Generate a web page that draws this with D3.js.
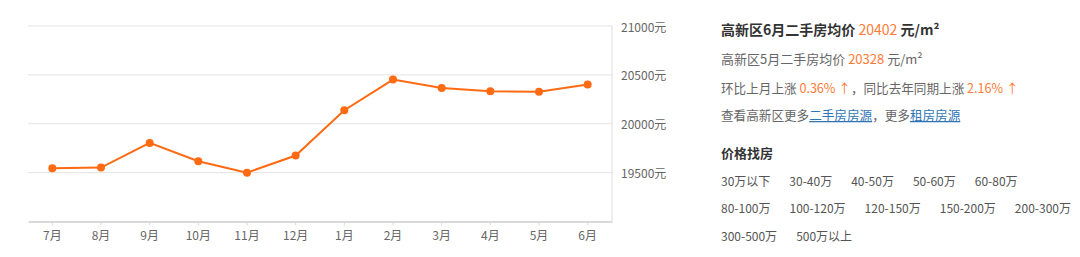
<!DOCTYPE html>
<html>
<head>
<meta charset="utf-8">
<script src="https://cdn.jsdelivr.net/npm/d3@7"></script>
<style>
  body { margin: 0; background: #fff; }
  svg { display: block; font-family: "Microsoft YaHei", "Noto Sans CJK SC", sans-serif; }
</style>
</head>
<body>
<svg></svg>
<script>
const width = 1080;
const height = 257;

const months = ['7月', '8月', '9月', '10月', '11月', '12月', '1月', '2月', '3月', '4月', '5月', '6月'];
const prices = [19545, 19552, 19804, 19617, 19500, 19675, 20138, 20452, 20366, 20333, 20328, 20402];
const yTicks = [19500, 20000, 20500, 21000];
const priceRanges = ['30万以下', '30-40万', '40-50万', '50-60万', '60-80万', '80-100万', '100-120万',
  '120-150万', '150-200万', '200-300万', '300-500万', '500万以上'];

const orange = '#ff6a13';
const orangeText = '#ff7a35';
const gray = '#666';
const dark = '#333';
const blue = '#2f74b5';

const svg = d3.select('svg')
  .attr('width', width)
  .attr('height', height);

// chart
const x = d3.scaleBand()
  .domain(months)
  .range([28, 612]);

const y = d3.scaleLinear()
  .domain([19000, 21000])
  .range([221.5, 26]);

const cx = d => x(d) + x.bandwidth() / 2;

const chart = svg.append('g');

chart.selectAll('.grid')
  .data(yTicks)
  .enter()
  .append('line')
  .attr('x1', 28)
  .attr('x2', 612)
  .attr('y1', d => y(d))
  .attr('y2', d => y(d))
  .attr('stroke', '#e3e3e3')
  .attr('stroke-width', 1);

// right border
chart.append('line')
  .attr('x1', 612).attr('x2', 612)
  .attr('y1', y(21000)).attr('y2', y(19000))
  .attr('stroke', '#dcdcdc');

// bottom axis
const xAxis = chart.append('g')
  .attr('transform', `translate(0,${y(19000)})`)
  .call(d3.axisBottom(x).tickSize(4).tickPadding(6).tickSizeOuter(0));
xAxis.select('.domain').attr('stroke', '#d9d9d9').attr('stroke-width', 2);
xAxis.selectAll('.tick line').attr('stroke', '#d9d9d9');
xAxis.selectAll('text')
  .attr('fill', gray)
  .attr('font-size', 12)
  .attr('font-family', '"Microsoft YaHei", "Noto Sans CJK SC", sans-serif');

// right tick labels
chart.selectAll('.ylab')
  .data(yTicks)
  .enter()
  .append('text')
  .attr('x', 621)
  .attr('y', d => y(d))
  .attr('dominant-baseline', 'central')
  .attr('font-size', 12)
  .attr('fill', gray)
  .text(d => d + '元');

const line = d3.line()
  .x((d, i) => cx(months[i]))
  .y(d => y(d));

chart.append('path')
  .datum(prices)
  .attr('d', line)
  .attr('fill', 'none')
  .attr('stroke', orange)
  .attr('stroke-width', 2);

chart.selectAll('.dot')
  .data(prices)
  .enter()
  .append('circle')
  .attr('cx', (d, i) => cx(months[i]))
  .attr('cy', d => y(d))
  .attr('r', 4)
  .attr('fill', orange);

// info panel
const info = svg.append('g');
const left = 721;

function addLine(yPos, size, parts, weight) {
  const t = info.append('text')
    .attr('x', left)
    .attr('y', yPos)
    .attr('dominant-baseline', 'central')
    .attr('font-size', size)
    .attr('font-weight', weight || 'normal');
  parts.forEach(p => {
    const s = t.append('tspan')
      .attr('fill', p[1])
      .text(p[0]);
    if (p[2]) s.attr('font-weight', p[2]);
    if (p[3]) s.attr('text-decoration', 'underline');
  });
}

addLine(29, 14, [
  ['高新区6月二手房均价 ', dark],
  ['20402', orangeText, 'normal'],
  [' 元/m²', dark]
], 'bold');

addLine(58, 13, [
  ['高新区5月二手房均价 ', gray],
  ['20328', orangeText],
  [' 元/m²', gray]
]);

addLine(87, 12.6, [
  ['环比上月上涨 ', gray],
  ['0.36% ↑', orangeText],
  ['，同比去年同期上涨 ', gray],
  ['2.16% ↑', orangeText]
]);

addLine(114, 12.6, [
  ['查看高新区更多', gray],
  ['二手房房源', blue, null, true],
  ['，更多', gray],
  ['租房房源', blue, null, true]
]);

addLine(152, 13, [['价格找房', dark]], 'bold');

// price range links, wrapped
const rowY = [180, 207.5, 235];
let px = left, row = 0;
const gap = 19, maxRight = 1078;
priceRanges.forEach(r => {
  const t = info.append('text')
    .attr('dominant-baseline', 'central')
    .attr('font-size', 12)
    .attr('fill', '#555')
    .text(r);
  const w = t.node().getComputedTextLength();
  if (px + w > maxRight) {
    row += 1;
    px = left;
  }
  t.attr('x', px).attr('y', rowY[row]);
  px += w + gap;
});
</script>
</body>
</html>
